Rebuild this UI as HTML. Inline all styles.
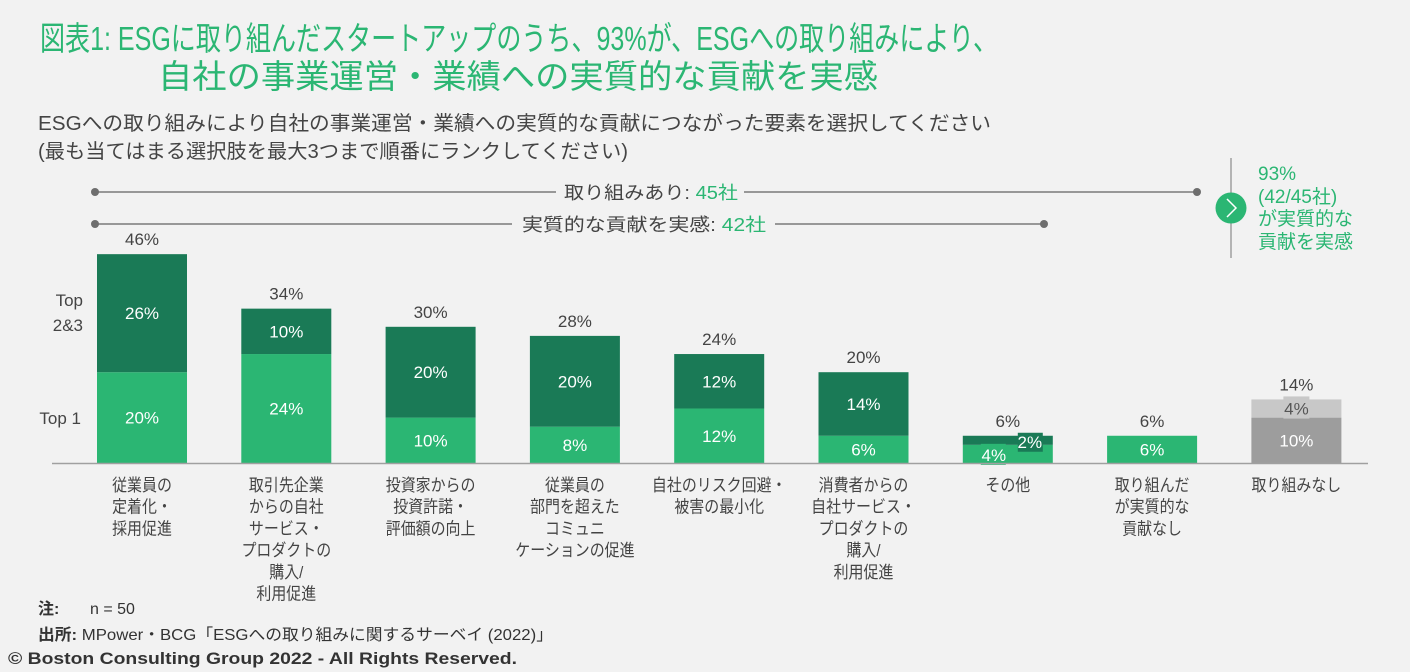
<!DOCTYPE html>
<html lang="ja">
<head>
<meta charset="utf-8">
<style>
  html,body{margin:0;padding:0;background:#f2f2f2;}
  svg{display:block;font-family:"Liberation Sans","Noto Sans CJK JP",sans-serif;}
</style>
</head>
<body>
<svg id="chart" width="1410" height="672" viewBox="0 0 1410 672">
  <rect width="1410" height="672" fill="#f2f2f2"/>
  <g fill="#2bb673" font-size="33">
    <text x="40" y="50" textLength="958" lengthAdjust="spacingAndGlyphs">図表1: ESGに取り組んだスタートアップのうち、93%が、ESGへの取り組みにより、</text>
    <text x="158" y="88" textLength="720" lengthAdjust="spacingAndGlyphs">自社の事業運営・業績への実質的な貢献を実感</text>
  </g>
  <g fill="#444" font-size="20">
    <text x="38" y="130" textLength="953" lengthAdjust="spacingAndGlyphs">ESGへの取り組みにより自社の事業運営・業績への実質的な貢献につながった要素を選択してください</text>
    <text x="38" y="158" textLength="590" lengthAdjust="spacingAndGlyphs">(最も当てはまる選択肢を最大3つまで順番にランクしてください)</text>
  </g>

  <g>
    <line x1="95" y1="192" x2="556" y2="192" stroke="#7a7a7a" stroke-width="1.5"/>
    <line x1="744" y1="192" x2="1197" y2="192" stroke="#7a7a7a" stroke-width="1.5"/>
    <circle cx="95" cy="192" r="4" fill="#6e6e6e"/>
    <circle cx="1197" cy="192" r="4" fill="#6e6e6e"/>
    <text x="564" y="199" font-size="18" fill="#444" textLength="174" lengthAdjust="spacingAndGlyphs">取り組みあり: <tspan fill="#2bb673">45社</tspan></text>
  </g>
  <g>
    <line x1="95" y1="224" x2="512" y2="224" stroke="#7a7a7a" stroke-width="1.5"/>
    <line x1="775" y1="224" x2="1044" y2="224" stroke="#7a7a7a" stroke-width="1.5"/>
    <circle cx="95" cy="224" r="4" fill="#6e6e6e"/>
    <circle cx="1044" cy="224" r="4" fill="#6e6e6e"/>
    <text x="522" y="231" font-size="18" fill="#444" textLength="244" lengthAdjust="spacingAndGlyphs">実質的な貢献を実感: <tspan fill="#2bb673">42社</tspan></text>
  </g>
  <g>
    <line x1="1231" y1="158" x2="1231" y2="258" stroke="#8a8a8a" stroke-width="1.2"/>
    <circle cx="1231" cy="208" r="15.5" fill="#2bb673"/>
    <polyline points="1227,199 1236,208 1227,217" fill="none" stroke="#fff" stroke-width="1.5"/>
    <g fill="#2bb673" font-size="19">
      <text x="1258" y="180">93%</text>
      <text x="1258" y="203">(42/45社)</text>
      <text x="1258" y="225">が実質的な</text>
      <text x="1258" y="248">貢献を実感</text>
    </g>
  </g>

  <g fill="#444" font-size="17" text-anchor="end">
    <text x="83" y="306">Top</text>
    <text x="83" y="331">2&amp;3</text>
    <text x="81" y="424">Top 1</text>
  </g>

  <g id="bars"></g>
  <line x1="52" y1="463.5" x2="1368" y2="463.5" stroke="#a0a0a0" stroke-width="1.5"/>
  <g id="cats"></g>

  <g fill="#333" font-size="16">
    <text x="38" y="614"><tspan font-weight="bold">注:</tspan><tspan x="90">n = 50</tspan></text>
    <text x="38" y="640" textLength="515" lengthAdjust="spacingAndGlyphs"><tspan font-weight="bold">出所:</tspan> MPower・BCG「ESGへの取り組みに関するサーベイ (2022)」</text>
    <text x="8" y="664" font-weight="bold" font-size="17" textLength="509" lengthAdjust="spacingAndGlyphs">© Boston Consulting Group 2022 - All Rights Reserved.</text>
  </g>
</svg>
<script>
const categories = ["従業員の|定着化・|採用促進","取引先企業|からの自社|サービス・|プロダクトの|購入/|利用促進","投資家からの|投資許諾・|評価額の向上","従業員の|部門を超えた|コミュニ|ケーションの促進","自社のリスク回避・|被害の最小化","消費者からの|自社サービス・|プロダクトの|購入/|利用促進","その他","取り組んだ|が実質的な|貢献なし","取り組みなし"];
const top1 = [20,24,10,8,12,6,4,6,10];
const top23 = [26,10,20,20,12,14,2,0,4];
const totals = [46,34,30,28,24,20,6,6,14];
const grayIndex = 8;

const NS = "http://www.w3.org/2000/svg";
const baseY = 463;
const pxPer = 4.54;
function yScale(v){ return baseY - v*pxPer; }
function xScale(i){ return 97 + i*144.3; }
const barW = 90;
const bars = document.getElementById('bars');
const cats = document.getElementById('cats');

function mk(tag, attrs, parent){
  const e = document.createElementNS(NS, tag);
  for (const k in attrs) e.setAttribute(k, attrs[k]);
  parent.appendChild(e);
  return e;
}

categories.forEach((c,i)=>{
  const x = xScale(i), cx = x + barW/2;
  const gray = i === grayIndex;
  const c1 = gray ? "#9d9d9d" : "#2bb673";
  const c2 = gray ? "#c8c8c8" : "#1a7a56";
  const y1 = yScale(top1[i]);
  const y2 = yScale(top1[i] + top23[i]);
  const r1 = mk('rect', {x:x, y:y1, width:barW, height:baseY-y1, fill:c1}, bars);
  
  
  if (top23[i] > 0) {
    const r2 = mk('rect', {x:x, y:y2, width:barW, height:y1-y2, fill:c2}, bars);
    
    
  }
  if (i === 6) {
    mk('rect', {x:cx-27, y:y1-1, width:25, height:21, fill:c1}, bars);
    const t1 = mk('text', {x:cx-14, y:y1+16, fill:'#fff', 'font-size':17, 'text-anchor':'middle'}, bars);
    t1.textContent = top1[i] + '%';
    
    
    mk('rect', {x:cx+10, y:y2-3, width:25, height:19, fill:c2}, bars);
    const t2 = mk('text', {x:cx+22, y:y2+12, fill:'#fff', 'font-size':17, 'text-anchor':'middle'}, bars);
    t2.textContent = top23[i] + '%';
    
    
  } else {
    const t1 = mk('text', {x:cx, y:(y1+baseY)/2+6, fill:'#fff', 'font-size':17, 'text-anchor':'middle'}, bars);
    t1.textContent = top1[i] + '%';
    
    
    if (top23[i] > 0) {
      if (gray) mk('rect', {x:cx-13, y:y2-3, width:26, height:y1-y2+4, fill:c2}, bars);
      const t2 = mk('text', {x:cx, y:(y2+y1)/2+6, fill: gray ? '#555' : '#fff', 'font-size':17, 'text-anchor':'middle'}, bars);
      t2.textContent = top23[i] + '%';
      
      
    }
  }
  const tt = mk('text', {x:cx, y:y2-9, fill:'#444', 'font-size':17, 'text-anchor':'middle'}, bars);
  tt.textContent = totals[i] + '%';
  
  

  const g = mk('g', {transform:'translate(' + cx + ',0) scale(0.88,1)'}, cats);
  
  
  c.split('|').forEach((line, j)=>{
    const t = mk('text', {x:0, y:491 + j*21.7, fill:'#444', 'font-size':17, 'text-anchor':'middle'}, g);
    t.textContent = line;
  });
});
</script>
</body>
</html>
